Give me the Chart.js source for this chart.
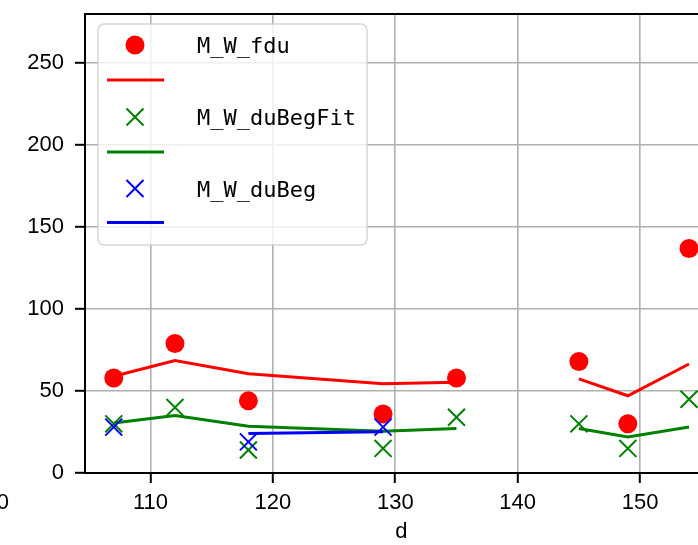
<!DOCTYPE html>
<html>
<head>
<meta charset="utf-8">
<script src="https://cdn.jsdelivr.net/npm/chart.js@4/dist/chart.umd.min.js"></script>
<style>
html, body { margin:0; padding:0; overflow:hidden; background:#fff; }
#wrap { width:740px; height:545px; }
</style>
</head>
<body>
<div id="wrap"><canvas id="c" width="740" height="545"></canvas></div>
<script>
// ---- data ----
const xs = [107, 112, 118, 129, 135, 145, 149, 154];
const fdu = [58, 79, 44, 36, 58, 68, 30, 137];
const duBegFit = [30, 40, 14, 15, 34, 30, 15, 45];
const duBegX = [107, 118, 129];
const duBeg = [28, 19, 28];
const fitXs = [107, 112, 118, 129, 135, 140, 145, 149, 154];
const fduFit = [59, 68.6, 60.5, 54.5, 55.4, null, 57.4, 47.1, 66.5];
const duBegFitFit = [30.5, 35, 28.5, 25.5, 27.1, null, 27.1, 22, 28.1];
const duBegLineX = [118, 129];
const duBegLine = [24.1, 25.1];
const legendLabels = ['M_W_fdu', '', 'M_W_duBegFit', '', 'M_W_duBeg', ''];
const xTitle = 'd';

const pts = (xa, ya) => xa.map((x, i) => ({x: x, y: ya[i]}));

const TICK_FONT = {family: '"Liberation Sans", Arial, sans-serif', size: 22};

const frame = {
  id: 'frame',
  beforeDatasetsDraw(chart) {
    const a = chart.chartArea, ctx = chart.ctx;
    ctx.save();
    ctx.strokeStyle = '#000';
    ctx.lineWidth = 2;
    ctx.beginPath();
    ctx.moveTo(a.left, a.top);
    ctx.lineTo(a.right, a.top);
    ctx.lineTo(a.right, a.bottom);
    ctx.stroke();
    ctx.restore();
  }
};

const legendPlugin = {
  id: 'mplLegend',
  afterDraw(chart) {
    const ctx = chart.ctx;
    ctx.save();
    // cut-off tick label at far left (from neighbouring panel)
    ctx.fillStyle = '#000';
    ctx.font = '22px "Liberation Sans", Arial, sans-serif';
    ctx.textAlign = 'right';
    ctx.textBaseline = 'alphabetic';
    ctx.fillText('100', 9, 508.5);

    // legend box
    const bx = 98, by = 24, bw = 269, bh = 221, r = 6;
    ctx.beginPath();
    ctx.moveTo(bx + r, by);
    ctx.arcTo(bx + bw, by, bx + bw, by + bh, r);
    ctx.arcTo(bx + bw, by + bh, bx, by + bh, r);
    ctx.arcTo(bx, by + bh, bx, by, r);
    ctx.arcTo(bx, by, bx + bw, by, r);
    ctx.closePath();
    ctx.fillStyle = 'rgba(255,255,255,0.8)';
    ctx.fill();
    ctx.strokeStyle = 'rgba(204,204,204,0.8)';
    ctx.lineWidth = 1.5;
    ctx.stroke();

    const ds = chart.data.datasets.slice().reverse(); // matplotlib plotting order
    const rowY = [45, 80, 117, 152, 188.5, 222.5];
    const mx = 135;
    ds.forEach((d, i) => {
      const y = rowY[i];
      if (d.showLine) {
        ctx.strokeStyle = d.borderColor;
        ctx.lineWidth = 3;
        ctx.beginPath();
        ctx.moveTo(107, y);
        ctx.lineTo(164, y);
        ctx.stroke();
      } else if (d.pointStyle === 'circle') {
        ctx.fillStyle = d.backgroundColor;
        ctx.beginPath();
        ctx.arc(mx, y, 9.5, 0, Math.PI * 2);
        ctx.fill();
      } else {
        ctx.strokeStyle = d.borderColor;
        ctx.lineWidth = 2;
        const h = 8.5;
        ctx.beginPath();
        ctx.moveTo(mx - h, y - h); ctx.lineTo(mx + h, y + h);
        ctx.moveTo(mx - h, y + h); ctx.lineTo(mx + h, y - h);
        ctx.stroke();
      }
      const lbl = legendLabels[i];
      if (lbl) {
        ctx.fillStyle = '#000';
        ctx.font = '22px "DejaVu Sans Mono", "Liberation Mono", monospace';
        ctx.textAlign = 'left';
        ctx.textBaseline = 'alphabetic';
        ctx.fillText(lbl, 197, y + 8);
      }
    });
    ctx.restore();
  }
};

// datasets listed in reverse so that later matplotlib artists are drawn on top
const datasets = [
  {label: legendLabels[5], data: pts(duBegLineX, duBegLine), showLine: true, borderColor: 'blue', borderWidth: 3, pointRadius: 0, spanGaps: false},
  {label: legendLabels[4], data: pts(duBegX, duBeg), pointStyle: 'crossRot', pointRadius: 12, borderColor: 'blue', backgroundColor: 'blue', pointBorderWidth: 2},
  {label: legendLabels[3], data: pts(fitXs, duBegFitFit), showLine: true, borderColor: 'green', borderWidth: 3, pointRadius: 0, spanGaps: false},
  {label: legendLabels[2], data: pts(xs, duBegFit), pointStyle: 'crossRot', pointRadius: 12, borderColor: 'green', backgroundColor: 'green', pointBorderWidth: 2},
  {label: legendLabels[1], data: pts(fitXs, fduFit), showLine: true, borderColor: 'red', borderWidth: 3, pointRadius: 0, spanGaps: false},
  {label: legendLabels[0], data: pts(xs, fdu), pointStyle: 'circle', pointRadius: 9.5, borderWidth: 0, pointBorderWidth: 0, borderColor: 'red', backgroundColor: 'red'}
];

new Chart(document.getElementById('c'), {
  type: 'scatter',
  data: {datasets},
  options: {
    responsive: false,
    animation: false,
    devicePixelRatio: 1,
    layout: {padding: {left: 0, top: 11, right: 22.2, bottom: 0}},
    plugins: {legend: {display: false}, tooltip: {enabled: false}},
    scales: {
      x: {
        type: 'linear', min: 104.65, max: 156.35,
        ticks: {stepSize: 10, includeBounds: false, color: '#000', font: TICK_FONT, padding: 7, maxRotation: 0, autoSkip: false},
        grid: {color: '#b0b0b0', lineWidth: 1.6, tickColor: '#000', tickLength: 10, tickWidth: 2},
        border: {display: true, color: '#000', width: 2},
        title: {display: true, text: xTitle, color: '#000', font: TICK_FONT, padding: {top: 0, bottom: 0}},
        afterFit(s) { s.height = 72; s.paddingLeft = 0; s.paddingRight = 0; }
      },
      y: {
        type: 'linear', min: 0, max: 280,
        ticks: {stepSize: 50, includeBounds: false, color: '#000', font: TICK_FONT, padding: 11},
        grid: {color: '#b0b0b0', lineWidth: 1.6, tickColor: '#000', tickLength: 10, tickWidth: 2},
        border: {display: true, color: '#000', width: 2},
        afterFit(s) { s.width = 85; s.paddingTop = 0; s.paddingBottom = 0; }
      }
    }
  },
  plugins: [frame, legendPlugin]
});
</script>
</body>
</html>
